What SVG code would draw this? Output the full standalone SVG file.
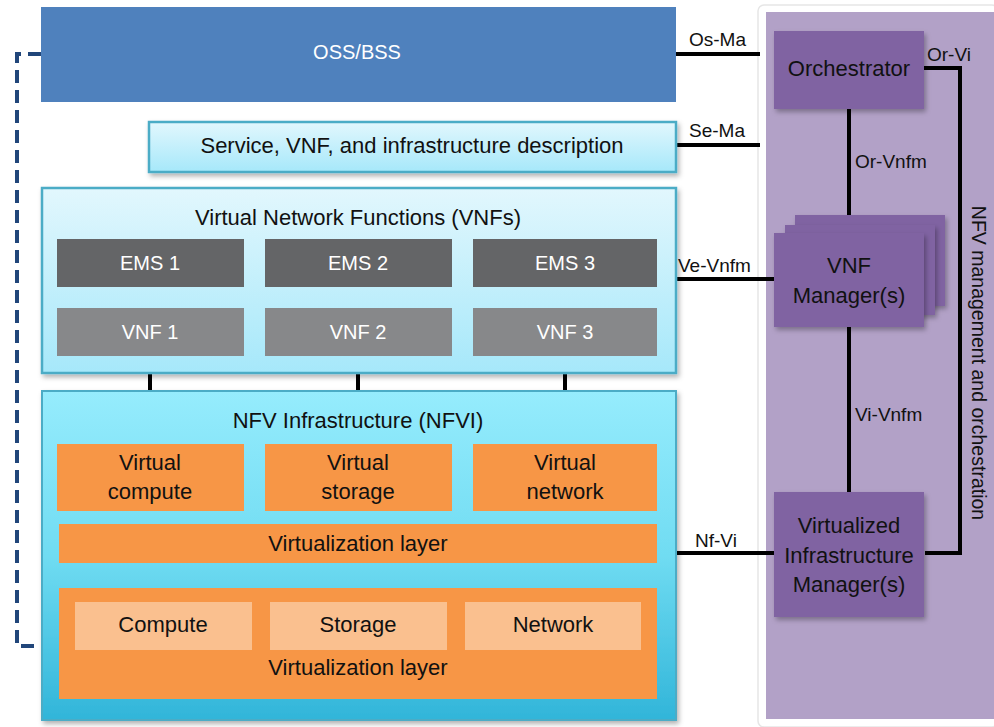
<svg xmlns="http://www.w3.org/2000/svg" width="994" height="727" viewBox="0 0 994 727">
  <defs>
    <linearGradient id="gradLight" x1="0" y1="0" x2="0" y2="1">
      <stop offset="0" stop-color="#e2f7fd"/>
      <stop offset="1" stop-color="#a6e8fa"/>
    </linearGradient>
    <linearGradient id="gradNfvi" x1="0" y1="0" x2="0" y2="1">
      <stop offset="0" stop-color="#96ecfd"/>
      <stop offset="0.5" stop-color="#70dcf2"/>
      <stop offset="1" stop-color="#31b5d9"/>
    </linearGradient>
    <filter id="shadow" x="-10%" y="-10%" width="120%" height="130%">
      <feDropShadow dx="2" dy="3" stdDeviation="2.5" flood-color="#000" flood-opacity="0.3"/>
    </filter>
  </defs>
  <style>
    text { font-family: "Liberation Sans", "DejaVu Sans", sans-serif; text-anchor: middle; }
    .t { font-size: 22px; fill: #111; }
    .w { font-size: 20px; fill: #fff; }
    .lbl { font-size: 19px; fill: #111; text-anchor: start; }
    .blue { fill: url(#gradLight); stroke: #4bacc6; stroke-width: 2.5; }
    .ems { fill: #646567; }
    .vnf { fill: #87888a; }
    .orange { fill: #f79646; }
    .pale { fill: #fac08f; }
    .mano { fill: #8064a2; }
    .link { stroke: #000; stroke-width: 4; fill: none; }
  </style>

  <rect width="994" height="727" fill="#fff"/>

  <!-- management and orchestration panel -->
  <g id="mano-panel">
    <rect x="758" y="5" width="240" height="722" rx="6" fill="#fff" stroke="#e6e6e6" stroke-width="1.5"/>
    <rect x="766" y="12" width="228" height="707" fill="#b2a1c7"/>
    <text transform="translate(972,363) rotate(90)" style="font-size:19.5px" fill="#111">NFV management and orchestration</text>
  </g>

  <!-- connectors -->
  <g id="connectors">
    <path d="M41,54 H17 V646 H59" fill="none" stroke="#21467a" stroke-width="4" stroke-dasharray="13 7"/>
    <line class="link" x1="676" y1="54" x2="760" y2="54"/>
    <line class="link" x1="676" y1="145" x2="760" y2="145"/>
    <line class="link" x1="676" y1="279" x2="774" y2="279"/>
    <line class="link" x1="676" y1="553" x2="774" y2="553"/>
    <path class="link" d="M924,68 H960 V553 H925"/>
    <line class="link" x1="849" y1="109" x2="849" y2="235"/>
    <line class="link" x1="849" y1="327" x2="849" y2="493"/>
    <line class="link" x1="150" y1="287" x2="150" y2="308" stroke-dasharray="13 2"/>
    <line class="link" x1="358" y1="287" x2="358" y2="308" stroke-dasharray="13 2"/>
    <line class="link" x1="565" y1="287" x2="565" y2="308" stroke-dasharray="13 2"/>
    <line class="link" x1="150" y1="356" x2="150" y2="391"/>
    <line class="link" x1="358" y1="356" x2="358" y2="391"/>
    <line class="link" x1="565" y1="356" x2="565" y2="391"/>
    <line class="link" x1="358" y1="563" x2="358" y2="588"/>
    <text class="lbl" x="689" y="46">Os-Ma</text>
    <text class="lbl" x="689" y="137">Se-Ma</text>
    <text class="lbl" x="678" y="272">Ve-Vnfm</text>
    <text class="lbl" x="695" y="547">Nf-Vi</text>
    <text class="lbl" x="927" y="61">Or-Vi</text>
    <text class="lbl" x="855" y="168">Or-Vnfm</text>
    <text class="lbl" x="855" y="421">Vi-Vnfm</text>
  </g>

  <g id="oss-bss">
    <rect x="41" y="7" width="635" height="95" fill="#4f81bd"/>
    <text class="w" x="357" y="59">OSS/BSS</text>
  </g>

  <g id="descriptions">
    <rect class="blue" x="149" y="122" width="527" height="50" filter="url(#shadow)"/>
    <text class="t" x="412" y="153">Service, VNF, and infrastructure description</text>
  </g>

  <g id="vnfs">
    <rect class="blue" x="42" y="188" width="634" height="185" filter="url(#shadow)"/>
    <text class="t" x="358" y="225">Virtual Network Functions (VNFs)</text>
  </g>
  <g id="ems1"><rect class="ems" x="57" y="239" width="187" height="48"/><text class="w" x="150" y="270">EMS 1</text></g>
  <g id="ems2"><rect class="ems" x="265" y="239" width="187" height="48"/><text class="w" x="358" y="270">EMS 2</text></g>
  <g id="ems3"><rect class="ems" x="473" y="239" width="184" height="48"/><text class="w" x="565" y="270">EMS 3</text></g>
  <g id="vnf1"><rect class="vnf" x="57" y="308" width="187" height="48"/><text class="w" x="150" y="339">VNF 1</text></g>
  <g id="vnf2"><rect class="vnf" x="265" y="308" width="187" height="48"/><text class="w" x="358" y="339">VNF 2</text></g>
  <g id="vnf3"><rect class="vnf" x="473" y="308" width="184" height="48"/><text class="w" x="565" y="339">VNF 3</text></g>

  <g id="nfvi">
    <rect x="42" y="391" width="634" height="329" fill="url(#gradNfvi)" stroke="#4bacc6" stroke-width="2" filter="url(#shadow)"/>
    <text class="t" x="358" y="428">NFV Infrastructure (NFVI)</text>
  </g>
  <g id="virtual-compute"><rect class="orange" x="57" y="444" width="187" height="67"/>
    <text class="t" x="150" y="470">Virtual</text><text class="t" x="150" y="499">compute</text></g>
  <g id="virtual-storage"><rect class="orange" x="265" y="444" width="187" height="67"/>
    <text class="t" x="358" y="470">Virtual</text><text class="t" x="358" y="499">storage</text></g>
  <g id="virtual-network"><rect class="orange" x="473" y="444" width="184" height="67"/>
    <text class="t" x="565" y="470">Virtual</text><text class="t" x="565" y="499">network</text></g>
  <g id="virtualization-layer">
    <rect class="orange" x="59" y="524" width="598" height="39"/>
    <text class="t" x="358" y="551">Virtualization layer</text>
  </g>
  <g id="hardware">
    <rect class="orange" x="59" y="588" width="598" height="111"/>
    <text class="t" x="358" y="675">Virtualization layer</text>
  </g>
  <g id="compute"><rect class="pale" x="75" y="602" width="177" height="48"/><text class="t" x="163" y="632">Compute</text></g>
  <g id="storage"><rect class="pale" x="270" y="602" width="177" height="48"/><text class="t" x="358" y="632">Storage</text></g>
  <g id="network"><rect class="pale" x="465" y="602" width="176" height="48"/><text class="t" x="553" y="632">Network</text></g>

  <g id="orchestrator">
    <rect class="mano" x="774" y="31" width="150" height="78" filter="url(#shadow)"/>
    <text class="t" x="849" y="76">Orchestrator</text>
  </g>
  <g id="vnf-manager">
    <rect class="mano" x="795" y="215" width="150" height="91" filter="url(#shadow)"/>
    <rect class="mano" x="785" y="225" width="150" height="90" filter="url(#shadow)"/>
    <rect class="mano" x="774" y="233" width="150" height="94" filter="url(#shadow)"/>
    <text class="t" x="849" y="273">VNF</text>
    <text class="t" x="849" y="303">Manager(s)</text>
  </g>
  <g id="vim">
    <rect class="mano" x="774" y="492" width="150" height="125" filter="url(#shadow)"/>
    <text class="t" x="849" y="533">Virtualized</text>
    <text class="t" x="849" y="563">Infrastructure</text>
    <text class="t" x="849" y="592">Manager(s)</text>
  </g>
</svg>
